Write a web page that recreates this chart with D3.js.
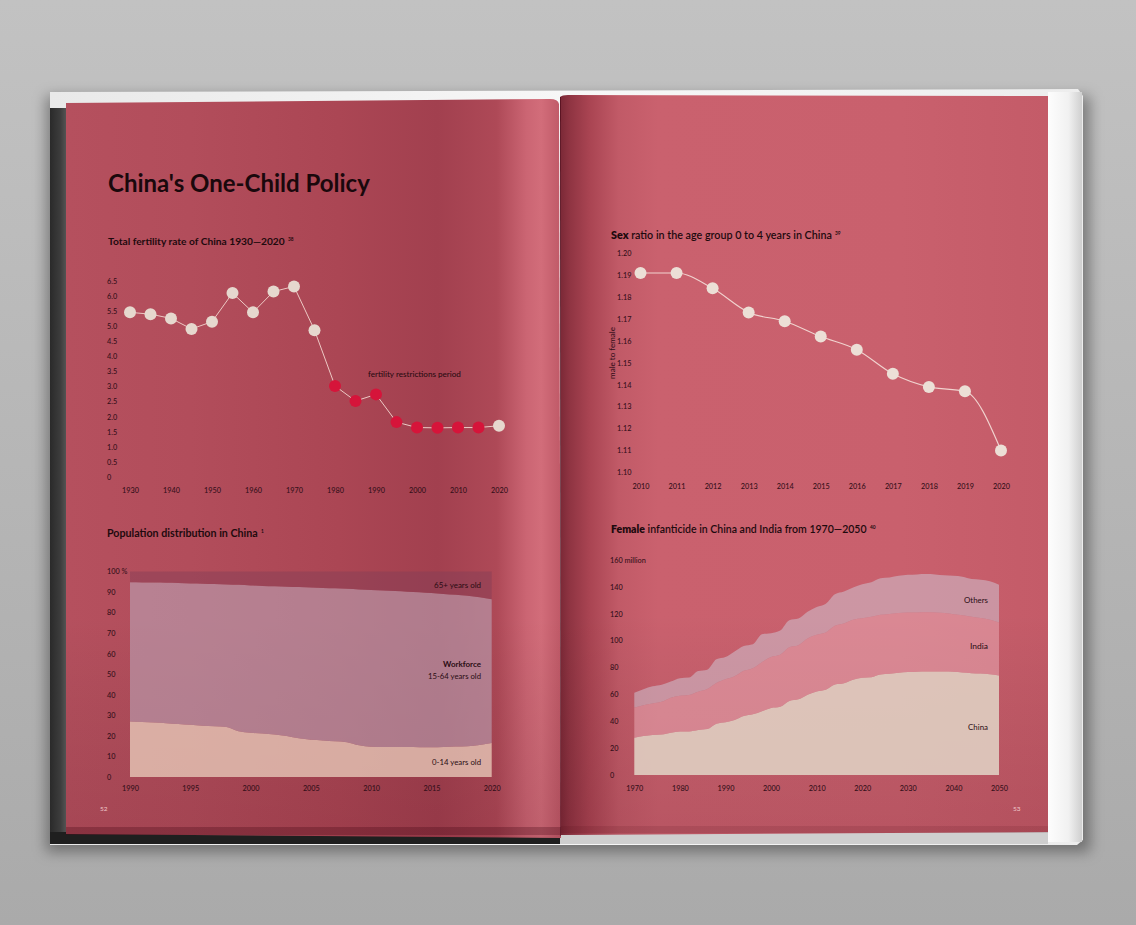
<!DOCTYPE html>
<html><head><meta charset="utf-8">
<script src="https://cdn.jsdelivr.net/npm/d3@7"></script>
<style>html,body{margin:0;padding:0;background:#b4b4b4;} svg{display:block;font-family:Lato,'Open Sans',sans-serif;}</style>
</head><body><svg id="c" width="1136" height="925"></svg>
<script>
// ---------------- DATA ----------------
const fertYears = [1930,1935,1940,1945,1950,1955,1960,1965,1970,1975,1980,1985,1990,1995,2000,2005,2010,2015,2020];
const fertRate  = [5.46,5.40,5.26,4.91,5.15,6.10,5.46,6.15,6.32,4.87,3.02,2.52,2.74,1.82,1.64,1.63,1.64,1.64,1.70];
const restrictionPeriod = [1980, 2015];
const fertYTicks = [0,0.5,1,1.5,2,2.5,3,3.5,4,4.5,5,5.5,6,6.5];
const fertXTicks = [1930,1940,1950,1960,1970,1980,1990,2000,2010,2020];

const popYears = [1990,1991,1992,1993,1994,1995,1996,1997,1998,1999,2000,2001,2002,2003,2004,2005,2006,2007,2008,2009,2010,2011,2012,2013,2014,2015,2016,2017,2018,2019,2020];
const popChildren = [27.0,26.8,26.5,26.2,25.8,25.4,25.0,24.7,24.3,22.3,21.5,21.2,20.7,20.0,18.8,18.1,17.8,17.4,16.9,15.4,14.7,14.6,14.6,14.6,14.5,14.5,14.6,14.8,15.0,15.6,16.5];
const popElderly  = [5.2,5.3,5.4,5.5,5.6,5.8,5.9,6.1,6.3,6.5,6.8,7.0,7.2,7.4,7.6,7.8,8.0,8.2,8.4,8.7,9.0,9.2,9.5,9.8,10.1,10.5,10.9,11.3,11.8,12.5,13.5];
const popWorkforce = popYears.map((y,i)=> +(100 - popChildren[i] - popElderly[i]).toFixed(1));
const popYTicks = [0,10,20,30,40,50,60,70,80,90,100];
const popXTicks = [1990,1995,2000,2005,2010,2015,2020];

const sexYears = [2010,2011,2012,2013,2014,2015,2016,2017,2018,2019,2020];
const sexRatio = [1.191,1.191,1.184,1.173,1.169,1.162,1.156,1.145,1.139,1.137,1.110];
const sexYTicks = [1.10,1.11,1.12,1.13,1.14,1.15,1.16,1.17,1.18,1.19,1.20];

const infYears  = [1970,1972,1974,1976,1978,1980,1982,1984,1986,1988,1990,1992,1994,1996,1998,2000,2002,2004,2006,2008,2010,2012,2014,2016,2018,2020,2022,2024,2026,2028,2030,2032,2034,2036,2038,2040,2042,2044,2046,2048,2050];
const infChina  = [27.8,29.0,29.8,30.1,31.5,32.3,32.4,33.5,34.2,38.2,39.3,41.0,43.9,45.2,47.5,49.8,50.7,55.1,56.3,59.8,62.2,63.4,67.3,68.3,70.8,72.3,72.8,74.8,75.3,76.1,76.6,76.9,77.1,77.1,77.0,76.9,76.3,75.8,75.6,75.0,74.1];
const infIndia  = [22.4,23.0,23.5,24.4,26.0,26.6,27.1,28.5,29.8,30.3,31.9,32.5,33.6,34.3,36.5,38.0,38.8,39.9,40.2,41.7,42.1,42.6,43.7,44.5,44.7,44.3,45.0,44.4,44.6,44.4,44.3,44.1,44.0,43.9,43.5,42.8,42.5,42.0,41.2,40.5,39.3];
const infOthers = [11.1,11.8,12.7,12.7,12.0,13.1,13.0,15.4,14.4,17.6,16.6,18.5,18.5,17.8,20.8,17.7,18.0,20.2,19.9,20.0,20.7,21.5,23.6,23.8,24.0,25.4,25.7,27.3,27.1,27.7,28.1,28.3,28.4,28.3,28.2,28.5,28.7,28.0,28.5,28.7,28.1];
const infSeries = ['China','India','Others'];
const infYTicks = [0,20,40,60,80,100,120,140,160];
const infXTicks = [1970,1980,1990,2000,2010,2020,2030,2040,2050];

// ---------------- SETUP ----------------
const svg = d3.select('#c');
const defs = svg.append('defs');
function lin(id, stops, x1=0,y1=0,x2=1,y2=0){
  const g = defs.append('linearGradient').attr('id',id).attr('x1',x1).attr('y1',y1).attr('x2',x2).attr('y2',y2);
  stops.forEach(([o,c,a])=>g.append('stop').attr('offset',o).attr('stop-color',c).attr('stop-opacity',a==null?1:a));
}
lin('bg',[[0,'#c2c2c2'],[1,'#aaaaaa']],0,0,0,1);
lin('cover',[[0,'#e9e9e9'],[0.5,'#f7f7f7'],[1,'#ededed']]);
lin('rbevel',[[0,'#fdfdfd'],[0.6,'#f1f1f1'],[1,'#cfcfcf']]);
lin('lstrip',[[0,'#2a2a2a'],[0.6,'#3c3c3c'],[1,'#575757']]);
lin('leftPage',[[0,'#b5505e'],[0.25,'#b24d5b'],[0.55,'#ab4654'],[0.75,'#a2404f'],[0.87,'#ae4957'],[0.93,'#cb6573'],[0.96,'#d26d7a'],[1,'#bf5967']]);
lin('rightPage',[[0,'#7a2836'],[0.02,'#8f3442'],[0.06,'#a94452'],[0.12,'#c15a67'],[0.2,'#ca616e'],[0.7,'#c9606d'],[1,'#c45b68']]);
lin('vshade',[[0,'#000',0],[0.7,'#000',0],[1,'#3a0010',0.12]],0,0,0,1);
defs.append('filter').attr('id','blur').attr('x','-10%').attr('y','-10%').attr('width','120%').attr('height','120%')
  .append('feGaussianBlur').attr('stdDeviation',7);

svg.append('rect').attr('width',1136).attr('height',925).attr('fill','url(#bg)');
svg.append('rect').attr('x',46).attr('y',96).attr('width',1044).attr('height',756).attr('fill','rgba(0,0,0,0.35)').attr('filter','url(#blur)');
// cover
svg.append('path').attr('d','M50,92 L1078,89 L1083,96 L1083,840 L1077,845 L50,845 Z').attr('fill','url(#cover)');
svg.append('rect').attr('x',1048).attr('y',92).attr('width',34).attr('height',750).attr('fill','url(#rbevel)');
svg.append('rect').attr('x',50).attr('y',108).attr('width',17).attr('height',736).attr('fill','url(#lstrip)');
svg.append('rect').attr('x',50).attr('y',832).attr('width',512).attr('height',12).attr('fill','#1f1f1f');
svg.append('rect').attr('x',560).attr('y',832).attr('width',488).attr('height',12).attr('fill','#cfcfcf');
// pages
const LP = 'M66,103 L550,99 Q558,99 559,104 L561,838 L66,834 Z';
const RP = 'M560,97 Q562,95 568,95 L1048,96 L1048,832 L561,835 Z';
svg.append('path').attr('d',LP).attr('fill','url(#leftPage)');
svg.append('path').attr('d',LP).attr('fill','url(#vshade)');
svg.append('path').attr('d',RP).attr('fill','url(#rightPage)');
svg.append('path').attr('d',RP).attr('fill','url(#vshade)');
svg.append('rect').attr('x',66).attr('y',827).attr('width',495).attr('height',8).attr('fill','rgba(70,5,20,0.3)');
svg.append('rect').attr('x',561).attr('y',826).attr('width',487).attr('height',7).attr('fill','rgba(70,5,20,0.12)');
svg.append('line').attr('x1',560.5).attr('x2',560.5).attr('y1',97).attr('y2',836).attr('stroke','rgba(60,0,15,0.5)');

const INK = '#2a0c13';
function txt(x,y,s,o={}){
  const t = svg.append('text').attr('x',x).attr('y',y).text(s)
    .attr('font-size',o.size||8).attr('font-weight',o.weight||400).attr('fill',o.fill||INK)
    .attr('text-anchor',o.anchor||'start');
  if(o.width){ const l=t.node().getComputedTextLength(); t.attr('font-size',(o.size||8)*o.width/l); }
  return t;
}
function title(x,y,parts,width,sup){
  const t = svg.append('text').attr('x',x).attr('y',y).attr('font-size',10).attr('fill','#1e0a0e');
  parts.forEach(([s,w])=>t.append('tspan').attr('font-weight',w).text(s));
  const l = t.node().getComputedTextLength();
  const fs = 10*width/l; t.attr('font-size',fs);
  if(sup) svg.append('text').attr('x',x+width+3).attr('y',y-4).attr('font-size',4.8).attr('font-weight',700).attr('fill','#1e0a0e').text(sup);
}
function styleAxis(g){
  g.select('.domain').remove();
  g.selectAll('text').attr('fill','#35101a').attr('font-family','Lato, sans-serif').attr('font-size',7.3).attr('font-weight',500);
}

// ---------------- TITLES ----------------
txt(108,192,"China's One-Child Policy",{size:22,weight:700,width:262,fill:'#1a080c'});
title(108,245,[['Total fertility rate of China 1930—2020',700]],177,'38');
title(107,536.5,[['Population distribution in China',700]],151,'1');
title(611,239,[['Sex',800],[' ratio in the age group 0 to 4 years in China',600]],221,'39');
title(611,533,[['Female',800],[' infanticide in China and India from 1970—2050',600]],256,'40');

// ---------------- CHART 1: fertility ----------------
{
  const x = d3.scaleLinear().domain([1930,2020]).range([130,499]);
  const y = d3.scaleLinear().domain([0,6.5]).range([477,281]);
  const ya = svg.append('g').attr('transform','translate(107,0)')
    .call(d3.axisLeft(y).tickValues(fertYTicks).tickSize(0).tickPadding(0).tickFormat(d=>d===0?'0':d.toFixed(1)));
  styleAxis(ya); ya.selectAll('text').attr('text-anchor','start').attr('x',0);
  const xa = svg.append('g').attr('transform','translate(0,490)')
    .call(d3.axisBottom(x).tickValues(fertXTicks).tickSize(0).tickPadding(0).tickFormat(d3.format('d')));
  styleAxis(xa); xa.selectAll('text').attr('dy','0.35em').attr('y',0);
  const pts = fertYears.map((yr,i)=>({yr,v:fertRate[i]}));
  svg.append('path').datum(pts).attr('fill','none').attr('stroke','#edc9c4').attr('stroke-width',1)
    .attr('d',d3.line().x(d=>x(d.yr)).y(d=>y(d.v)));
  svg.append('g').selectAll('circle').data(pts).join('circle')
    .attr('cx',d=>x(d.yr)).attr('cy',d=>y(d.v)).attr('r',6)
    .attr('fill',d=>(d.yr>=restrictionPeriod[0]&&d.yr<=restrictionPeriod[1])?'#d6143a':'#e6d8ce');
  txt(368,377.3,'fertility restrictions period',{size:8,weight:500,width:93,fill:'#2a0c12'});
}

// ---------------- CHART 2: population ----------------
{
  const x = d3.scaleLinear().domain([1990,2020]).range([130,491.7]);
  const y = d3.scaleLinear().domain([0,100]).range([777,571.5]);
  const rows = popYears.map((yr,i)=>({yr,children:popChildren[i],workforce:popWorkforce[i],elderly:popElderly[i]}));
  const st = d3.stack().keys(['children','workforce','elderly'])(rows);
  const fills = {children:'rgba(232,202,186,0.78)',workforce:'rgba(186,164,182,0.6)',elderly:'rgba(130,62,86,0.45)'};
  const area = d3.area().x(d=>x(d.data.yr)).y0(d=>y(d[0])).y1(d=>y(d[1])).curve(d3.curveMonotoneX);
  svg.append('g').selectAll('path').data(st).join('path').attr('fill',d=>fills[d.key]).attr('d',area);
  const ya = svg.append('g').attr('transform','translate(107,0)')
    .call(d3.axisLeft(y).tickValues(popYTicks).tickSize(0).tickPadding(0).tickFormat(d=>d===100?'100 %':d));
  styleAxis(ya); ya.selectAll('text').attr('text-anchor','start').attr('x',0);
  const xa = svg.append('g').attr('transform','translate(0,788)')
    .call(d3.axisBottom(x).tickValues(popXTicks).tickSize(0).tickPadding(0).tickFormat(d3.format('d')));
  styleAxis(xa); xa.selectAll('text').attr('dy','0.35em').attr('y',0);
  txt(481,587.7,'65+ years old',{size:7.5,anchor:'end',width:47});
  txt(481,667,'Workforce',{size:7.5,weight:700,anchor:'end',width:38});
  txt(481,679,'15-64 years old',{size:7.5,anchor:'end',width:53});
  txt(481,764.7,'0-14 years old',{size:7.5,anchor:'end',width:49});
}

// ---------------- CHART 3: sex ratio ----------------
{
  const x = d3.scaleLinear().domain([2010,2020]).range([640.5,1001]);
  const y = d3.scaleLinear().domain([1.10,1.20]).range([472.3,253.3]);
  const ya = svg.append('g').attr('transform','translate(617,0)')
    .call(d3.axisLeft(y).tickValues(sexYTicks).tickSize(0).tickPadding(0).tickFormat(d=>d.toFixed(2)));
  styleAxis(ya); ya.selectAll('text').attr('text-anchor','start').attr('x',0);
  const xa = svg.append('g').attr('transform','translate(0,486)')
    .call(d3.axisBottom(x).tickValues(sexYears).tickSize(0).tickPadding(0).tickFormat(d3.format('d')));
  styleAxis(xa); xa.selectAll('text').attr('dy','0.35em').attr('y',0);
  const ml = svg.append('text').attr('transform','translate(615,353) rotate(-90)').attr('text-anchor','middle')
    .attr('font-size',7.5).attr('font-weight',500).attr('fill','#35101a').text('male to female');
  ml.attr('font-size', 7.5*52/ml.node().getComputedTextLength());
  const pts = sexYears.map((yr,i)=>({yr,v:sexRatio[i]}));
  svg.append('path').datum(pts).attr('fill','none').attr('stroke','#f1d3cf').attr('stroke-width',1.1)
    .attr('d',d3.line().x(d=>x(d.yr)).y(d=>y(d.v)).curve(d3.curveMonotoneX));
  svg.append('g').selectAll('circle').data(pts).join('circle')
    .attr('cx',d=>x(d.yr)).attr('cy',d=>y(d.v)).attr('r',6).attr('fill','#ecdfd6');
}

// ---------------- CHART 4: infanticide ----------------
{
  const x = d3.scaleLinear().domain([1970,2050]).range([634.3,999]);
  const y = d3.scaleLinear().domain([0,160]).range([775,560]);
  const rows = infYears.map((yr,i)=>({yr,China:infChina[i],India:infIndia[i],Others:infOthers[i]}));
  const st = d3.stack().keys(infSeries)(rows);
  const fills = {China:'rgba(224,210,196,0.88)',India:'rgba(236,176,186,0.5)',Others:'rgba(208,204,218,0.5)'};
  const area = d3.area().x(d=>x(d.data.yr)).y0(d=>y(d[0])).y1(d=>y(d[1])).curve(d3.curveMonotoneX);
  svg.append('g').selectAll('path').data(st).join('path').attr('fill',d=>fills[d.key]).attr('d',area);
  const ya = svg.append('g').attr('transform','translate(610,0)')
    .call(d3.axisLeft(y).tickValues(infYTicks).tickSize(0).tickPadding(0).tickFormat(d=>d===160?'160 million':d));
  styleAxis(ya); ya.selectAll('text').attr('text-anchor','start').attr('x',0);
  const xa = svg.append('g').attr('transform','translate(0,788.3)')
    .call(d3.axisBottom(x).tickValues(infXTicks).tickSize(0).tickPadding(0).tickFormat(d3.format('d')));
  styleAxis(xa); xa.selectAll('text').attr('dy','0.35em').attr('y',0);
  txt(988,603.3,'Others',{size:7.5,anchor:'end',width:24});
  txt(988,648.7,'India',{size:7.5,anchor:'end',width:18});
  txt(988,730.3,'China',{size:7.5,anchor:'end',width:20});
}

// page numbers
txt(100,811,'52',{size:6.5,fill:'#f0c9cd'});
txt(1013,811,'53',{size:6.5,fill:'#f0c9cd'});
</script></body></html>
